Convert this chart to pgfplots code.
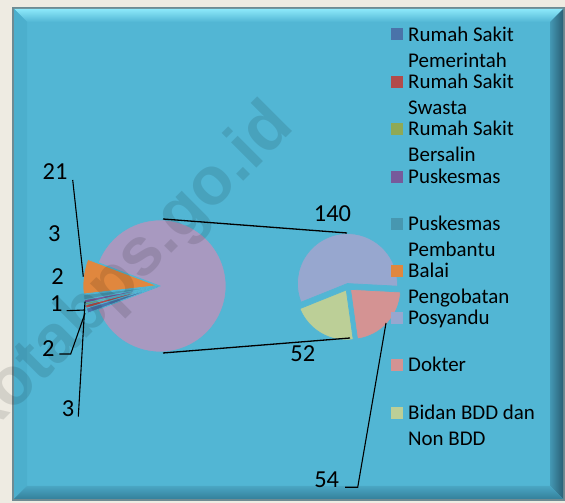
\documentclass[border=0pt]{standalone}
\usepackage{pgfplots}
\usepackage{pgfplotstable}
\pgfplotsset{compat=1.18}
\usepackage{fontspec}
\setmainfont{Carlito}
\newfontfamily\wmfont{Liberation Sans}

\definecolor{beige}{HTML}{EEEBE2}
\definecolor{framegray}{HTML}{6E8B93}
\definecolor{bgc}{HTML}{52B6D4}
\definecolor{bevtop}{HTML}{8CE8FA}
\definecolor{bevleft}{HTML}{4CAFCD}
\definecolor{bevright1}{HTML}{4498B4}
\definecolor{bevright2}{HTML}{2A6076}
\definecolor{bevbot1}{HTML}{4AA6C3}
\definecolor{bevbot2}{HTML}{34809B}
\definecolor{cRSP}{HTML}{4A73A9}
\definecolor{cRSS}{HTML}{B24B4A}
\definecolor{cRSB}{HTML}{8FA955}
\definecolor{cPKM}{HTML}{775A9B}
\definecolor{cPST}{HTML}{4797B0}
\definecolor{cBP}{HTML}{E0873E}
\definecolor{cPOS}{HTML}{97A7CF}
\definecolor{cDOK}{HTML}{D49393}
\definecolor{cBID}{HTML}{BCCF97}
\definecolor{cOTH}{HTML}{A899C0}

% first pie: Other (= Posyandu + Dokter + Bidan) and the small slices
\pgfplotstableread{
name value rad shift col
Lainnya 246 66 0 cOTH
BalaiPengobatan 21 74 3 cBP
PuskesmasPembantu 3 74 3 cPST
Puskesmas 2 74 3 cPKM
RSBersalin 1 74 3 cRSB
RSSwasta 2 74 3 cRSS
RSPemerintah 3 74 3 cRSP
}\firstpie

% second pie
\pgfplotstableread{
name value rad shift col
Posyandu 140 50 3.5 cPOS
Bidan 52 50 3.5 cBID
Dokter 54 50 3.5 cDOK
}\secondpie

\newcommand\drawpie[5]{% table, cx, cy, total, start angle
  \pgfplotstablegetrowsof{#1}%
  \pgfmathtruncatemacro\npie{\pgfplotsretval-1}%
  \xdef\curang{#5}%
  \foreach \i in {0,...,\npie}{%
    \pgfplotstablegetelem{\i}{value}\of#1\let\v\pgfplotsretval
    \pgfplotstablegetelem{\i}{rad}\of#1\let\rr\pgfplotsretval
    \pgfplotstablegetelem{\i}{shift}\of#1\let\sh\pgfplotsretval
    \pgfplotstablegetelem{\i}{col}\of#1\let\cc\pgfplotsretval
    \pgfmathsetmacro\aend{\curang+\v/#4*360}%
    \pgfmathsetmacro\amid{(\curang+\aend)/2}%
    \pgfmathsetmacro\ox{#2+\sh*cos(\amid)}%
    \pgfmathsetmacro\oy{#3+\sh*sin(\amid)}%
    \fill[\cc, draw=bgc, line width=0.7bp] (axis cs:\ox,\oy) -- ++(\curang:\rr bp)
      arc[start angle=\curang, end angle=\aend, radius=\rr bp] -- cycle;
    \xdef\curang{\aend}%
  }%
}

\begin{document}
\begin{tikzpicture}[x=1bp,y=1bp]
\path[use as bounding box] (0,0) rectangle (565,503);
% background and frame
\fill[beige] (0,0) rectangle (565,503);
\fill[framegray] (12,2) rectangle (565,496);
\fill[bgc] (14,4) rectangle (563,494);
% top bevel
\shade[top color=bevtop, bottom color=bgc]
  (14,494) -- (563,494) -- (550,481) -- (27,481) -- cycle;
% left bevel
\fill[bevleft] (14,494) -- (27,481) -- (27,17) -- (14,4) -- cycle;
% right bevel
\shade[left color=bevright1, right color=bevright2]
  (563,494) -- (550,481) -- (550,17) -- (563,4) -- cycle;
% bottom bevel
\shade[top color=bevbot1, bottom color=bevbot2]
  (14,4) -- (27,17) -- (550,17) -- (563,4) -- cycle;

\begin{axis}[at={(0,0)}, anchor=south west, scale only axis,
  width=565bp, height=503bp, xmin=0, xmax=565, ymin=0, ymax=503,
  hide axis, clip=false]
\pgfplotsextra{\drawpie{\firstpie}{160}{217}{278}{-159.28}}
\pgfplotsextra{\drawpie{\secondpie}{348}{216}{246}{-3}}
% connector lines
\addplot[black, line width=1.3bp] coordinates {(163,284) (347,270)};
\addplot[black, line width=1.3bp] coordinates {(163,150) (350,165)};
% leader lines
\addplot[black, line width=1.1bp] coordinates {(72.7,323) (83.3,226.3)};
\addplot[black, line width=1.1bp] coordinates {(66.7,192.3) (85,193)};
\addplot[black, line width=1.1bp] coordinates {(59.3,149) (70.7,149) (85,189.7)};
\addplot[black, line width=1.1bp] coordinates {(78.3,86.3) (85,201.3)};
\addplot[black, line width=1.1bp] coordinates {(345,15.7) (357.7,15.7) (386,180)};
% data labels
\begin{scope}[every node/.style={inner sep=0pt, font=\fontsize{24.5}{24.5}\selectfont}]
\node at (axis cs:55,331.3) {21};
\node at (axis cs:54.2,269.7) {3};
\node at (axis cs:57.5,226.3) {2};
\node at (axis cs:56.3,199.3) {1};
\node at (axis cs:48.3,154) {2};
\node at (axis cs:68,94) {3};
\node at (axis cs:332.5,289.3) {140};
\node at (axis cs:302.8,149.3) {52};
\node at (axis cs:326.7,23) {54};
\end{scope}
\end{axis}
% legend
\begin{scope}[every node/.style={inner sep=0pt, anchor=base west,
    font=\fontsize{21}{26}\selectfont}]
\foreach \yy/\cc/\ta/\tb in {
  34.5/cRSP/Rumah Sakit/Pemerintah,
  82/cRSS/Rumah Sakit/Swasta,
  129/cRSB/Rumah Sakit/Bersalin,
  177/cPKM/Puskesmas/,
  224/cPST/Puskesmas/Pembantu,
  271/cBP/Balai/Pengobatan,
  318/cPOS/Posyandu/,
  365/cDOK/Dokter/,
  413/cBID/Bidan BDD dan/Non BDD}{
  \fill[\cc] (391,503-\yy-6) rectangle (403,503-\yy+6);
  \node at (408,503-\yy-6.6) {\ta};
  \node at (408,503-\yy-6.6-26) {\tb};
}
\end{scope}
% watermark
\begin{scope}
\clip (0,0) rectangle (565,503);
\node[rotate=45, opacity=0.11, text=black, inner sep=0pt,
  font=\wmfont\bfseries\fontsize{68}{68}\selectfont] at (128,231) {kotabps.go.id};
\end{scope}
\end{tikzpicture}
\end{document}
